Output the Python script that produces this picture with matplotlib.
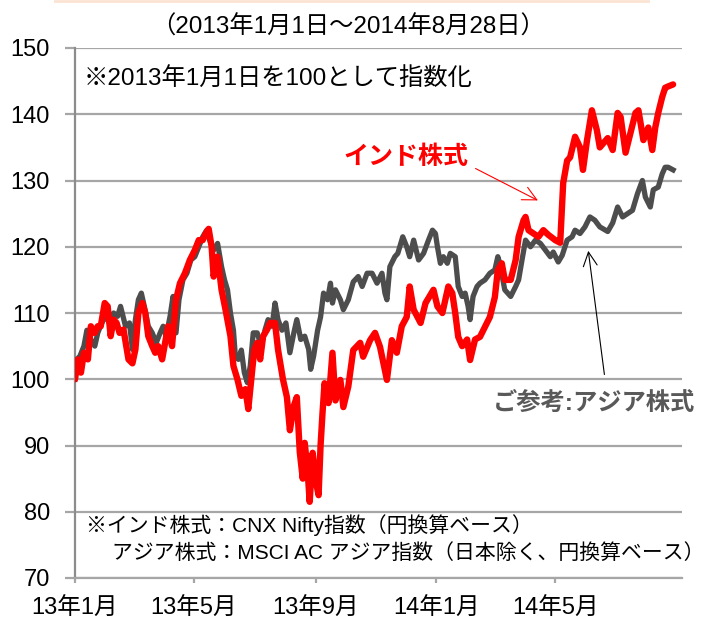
import datetime as dt
import matplotlib
matplotlib.use("Agg")
import matplotlib.pyplot as plt
from matplotlib.lines import Line2D

plt.rcParams['font.family'] = ['Liberation Sans', 'Noto Sans CJK JP', 'DejaVu Sans']

# days since 2013-01-01 and index level (2013/1/1 = 100)
start = dt.date(2013, 1, 1)

india_day = [0, 3, 6, 9, 13, 16, 20, 23, 26, 30, 33, 36, 39, 42, 45, 49, 54, 58, 61, 64,
             68, 71, 74, 78, 81, 84, 88, 91, 94, 98, 102, 106, 111, 116, 121, 125, 129, 132, 135, 138,
             140, 144, 148, 152, 157, 160, 164, 168, 172, 175, 178, 181, 184, 187, 190, 194, 197, 202, 205, 210,
             214, 217, 221, 224, 227, 230, 232, 235, 237, 240, 244, 246, 248, 250, 252, 256, 260, 263, 268, 271,
             276, 281, 288, 291, 298, 303, 308, 315, 320, 325, 330, 335, 338, 342, 349, 354, 362, 366, 371, 377,
             381, 384, 387, 391, 396, 399, 404, 409, 414, 419, 424, 427, 431, 434, 440, 445, 448, 453, 455, 458,
             463, 468, 473, 478, 485, 490, 493, 497, 500, 505, 510, 513, 517, 522, 527, 530, 538, 543, 548, 551,
             556, 561, 566, 569, 574, 579, 583, 586, 589, 593, 596, 599, 604]
india_val = [100, 103, 101, 104, 103, 108, 107, 108, 108, 111.5, 111, 106.5, 109, 108.5, 107, 107.5, 103, 102.4, 104.5, 110,
             111.5, 110, 106.5, 105, 104, 105, 103, 105.5, 108, 105, 112, 114.5, 116, 118, 119.5, 121, 121, 122, 122.7, 120,
             115.5, 118.5, 113.5, 110.5, 106.5, 102, 100, 97.5, 98.5, 95.5, 100, 104.4, 105.5, 103, 106.5, 107.5, 108.5, 108.5, 104.5, 100,
             97.3, 92.3, 96, 97.3, 89, 85, 90.4, 86, 81.5, 88.9, 84, 82.5, 90, 95, 99.4, 96.4, 104, 96.8, 99.9, 95.8,
             98.9, 104.4, 105.5, 103.4, 105.9, 107, 104.9, 99.9, 105.9, 104, 108, 109.4, 114, 110.5, 108.5, 111.5, 113.5, 111, 110, 114,
             113, 110, 106.4, 105, 106, 102.9, 106, 106.4, 107.9, 109.4, 112.4, 116.5, 117.5, 115, 115, 118, 121.5, 124, 124.5, 122.5,
             122, 121.5, 122.5, 121.8, 121, 120.6, 129.6, 133, 133.5, 136.6, 135, 131.6, 136, 140.6, 137.6, 135, 136.4, 134.6, 140.2, 139.6,
             134.2, 137.2, 140.2, 140.6, 136.1, 138, 134.6, 138, 140.2, 142.6, 144, 144.2, 144.5]

asia_day = [0, 2, 5, 9, 12, 16, 20, 23, 27, 31, 35, 39, 43, 46, 51, 55, 58, 61, 64, 67,
            70, 74, 78, 82, 86, 89, 92, 96, 99, 102, 105, 109, 113, 117, 121, 125, 129, 133, 136, 140,
            144, 148, 151, 154, 157, 160, 162, 165, 168, 171, 174, 177, 180, 184, 188, 192, 195, 199, 202, 205,
            209, 213, 217, 221, 224, 228, 232, 236, 238, 241, 245, 248, 251, 255, 258, 260, 263, 268, 271, 276,
            281, 286, 290, 295, 300, 305, 310, 313, 315, 318, 323, 326, 331, 335, 338, 342, 347, 352, 357, 361,
            364, 366, 369, 372, 376, 379, 384, 387, 391, 394, 397, 399, 402, 406, 409, 414, 419, 424, 427, 429,
            434, 440, 445, 448, 452, 455, 460, 465, 470, 475, 480, 483, 488, 492, 497, 502, 505, 510, 515, 520,
            525, 530, 538, 543, 548, 553, 558, 563, 568, 573, 576, 581, 584, 589, 593, 596, 599, 604]
asia_val = [100, 103, 103.5, 105, 107.4, 106, 105, 107, 108.5, 109.5, 108.5, 110, 109.5, 111, 108, 108.5, 104.5, 109, 112, 113,
            111, 108, 107, 105.5, 107, 108, 106.5, 109.5, 112.5, 107, 112, 115, 116, 118, 118.5, 120, 121.5, 122.5, 121, 119.5,
            120.5, 117, 115, 113.5, 110, 107.4, 103.4, 103, 104.4, 101, 99.5, 102, 107, 107, 105, 107.5, 109, 108, 111.5, 109,
            107.4, 108.5, 104, 107, 109, 106, 106.5, 104.5, 101.5, 103.5, 107.4, 109.4, 113, 112, 114.5, 111.5, 113.5, 112, 110.5, 112,
            114.7, 115.5, 114, 116, 116, 114.5, 116, 113, 112, 117, 118.5, 119, 121.5, 120, 118.5, 121, 118, 119, 121, 122.5,
            122, 120, 117.5, 118.5, 117.5, 119, 118.5, 114, 112.5, 113, 111, 109, 112.5, 114, 114.5, 115, 116, 116.5, 118.5, 117.5,
            113.5, 112.5, 114, 115, 118.5, 121, 120, 121, 120.5, 119.5, 118.5, 119.2, 117.7, 118.7, 121, 121.5, 122.5, 122, 123, 124.5,
            124, 123, 122.3, 123.6, 126, 124.5, 125, 125.5, 128, 130, 127.5, 126, 128.6, 129, 131, 132, 132, 131.6]

yticks = [70, 80, 90, 100, 110, 120, 130, 140, 150]
xtick_dates = [dt.date(2013, 1, 1), dt.date(2013, 5, 1), dt.date(2013, 9, 1),
               dt.date(2014, 1, 1), dt.date(2014, 5, 1)]
xtick_labels = ['13年1月', '13年5月', '13年9月', '14年1月', '14年5月']

india_dates = [start + dt.timedelta(days=d) for d in india_day]
asia_dates = [start + dt.timedelta(days=d) for d in asia_day]

W, H = 704, 620
fig = plt.figure(figsize=(W / 100, H / 100), dpi=100)
ax = fig.add_axes([75 / W, 1 - 578 / H, (682 - 75) / W, (578 - 48) / H])

ax.plot(asia_dates, asia_val, color='#4d4d4d', lw=3.8, solid_joinstyle='round', zorder=3)
ax.plot(india_dates, india_val, color='#ff0000', lw=4.6, solid_joinstyle='round',
        solid_capstyle='round', zorder=4)

ax.set_ylim(70, 150)
ax.set_xlim(start, start + dt.timedelta(days=613))
ax.set_yticks(yticks)
ax.set_yticklabels([str(v) for v in yticks])
ax.set_xticks(xtick_dates)
ax.set_xticklabels(xtick_labels)
ax.grid(axis='y', color='#a6a6a6', lw=1.6, zorder=1)
ax.grid(axis='x', visible=False)
for s in ['top', 'right']:
    ax.spines[s].set_visible(False)
ax.spines['left'].set_color('#8c8c8c')
ax.spines['left'].set_linewidth(1.6)
ax.spines['bottom'].set_color('#a6a6a6')
ax.spines['bottom'].set_linewidth(1.6)
ax.tick_params(axis='y', length=7, width=1.6, color='#a6a6a6', pad=11, labelsize=17)
ax.tick_params(axis='x', length=3.6, width=1.6, color='#a6a6a6', pad=10.5, labelsize=17)

# arrows and labels
ax.annotate('', xy=(start + dt.timedelta(days=470), 126.8),
            xytext=(start + dt.timedelta(days=402), 132.0),
            arrowprops=dict(arrowstyle='->', color='#ff0000', lw=0.8, mutation_scale=25))
ax.annotate('', xy=(start + dt.timedelta(days=518), 119.8),
            xytext=(start + dt.timedelta(days=535), 100.3),
            arrowprops=dict(arrowstyle='->', color='#000000', lw=0.8, mutation_scale=25))

fig.text(348 / W, 1 - 27 / H, '（2013年1月1日～2014年8月28日）', ha='center', va='center', fontsize=17.5)
fig.text(84 / W, 1 - 79 / H, '※2013年1月1日を100として指数化', ha='left', va='center', fontsize=17.5)
fig.text(343 / W, 1 - 157 / H, 'インド株式', ha='left', va='center', fontsize=18,
         fontweight='bold', color='#ff0000')
fig.text(493 / W, 1 - 403 / H, 'ご参考:アジア株式', ha='left', va='center', fontsize=17.5,
         fontweight='bold', color='#595959')
fig.text(86 / W, 1 - 525 / H, '※インド株式：CNX Nifty指数（円換算ベース）', ha='left', va='center', fontsize=15)
fig.text(112 / W, 1 - 553 / H, 'アジア株式：MSCI AC アジア指数（日本除く、円換算ベース）', ha='left',
         va='center', fontsize=15)

# faint top border
fig.add_artist(Line2D([55 / W, 648 / W], [1 - 1 / H, 1 - 1 / H], color='#fbe3d4', lw=2))

fig.savefig('out.png', dpi=100)
